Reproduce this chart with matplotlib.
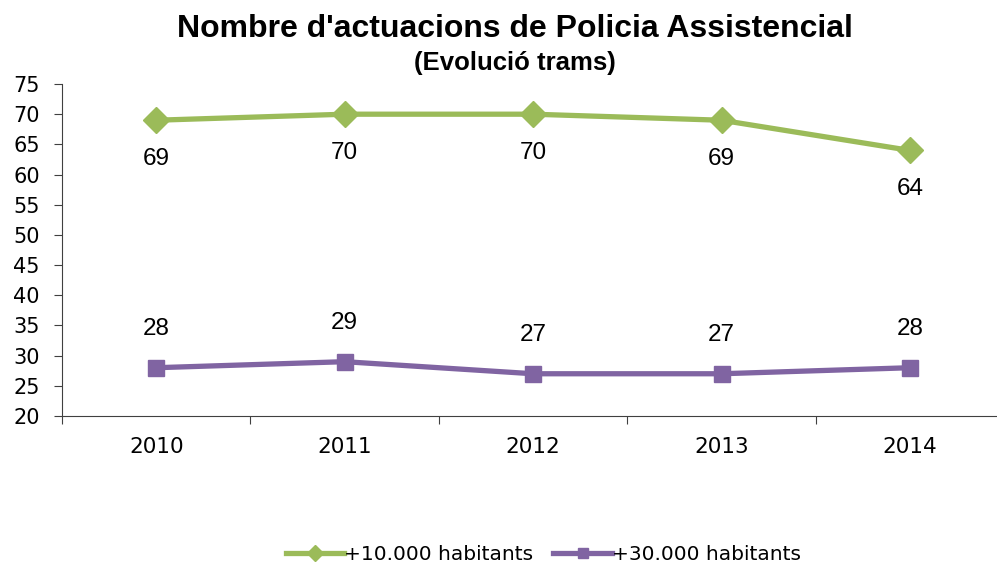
import numpy as np
import matplotlib
matplotlib.use("Agg")
import matplotlib.pyplot as plt

years = ["2010", "2011", "2012", "2013", "2014"]
pop_10k = [69, 70, 70, 69, 64]
pop_30k = [28, 29, 27, 27, 28]
labels = ["+10.000 habitants", "+30.000 habitants"]

green = "#9BBB59"
purple = "#8064A2"

fig = plt.figure(figsize=(9.97, 5.65), dpi=100)
ax = fig.add_axes([0.0622, 0.2637, 0.945, 0.5876])

x = np.arange(len(years))
ax.plot(x, pop_10k, color=green, lw=3.8, marker="D", ms=13, label=labels[0])
ax.plot(x, pop_30k, color=purple, lw=3.8, marker="s", ms=11, label=labels[1])

# etiquetes de dades: verd a sota, lila a sobre
for xi, v in zip(x, pop_10k):
    ax.annotate(str(v), (xi, v), xytext=(0, -28), textcoords="offset points",
                ha="center", va="center", fontsize=17.5, family="Liberation Sans")
for xi, v in zip(x, pop_30k):
    ax.annotate(str(v), (xi, v), xytext=(0, 28), textcoords="offset points",
                ha="center", va="center", fontsize=17.5, family="Liberation Sans")

ax.set_xlim(-0.5, len(years) - 0.5)
ax.set_ylim(20, 75)
ax.set_yticks(range(20, 80, 5))
ax.set_xticks(x)
ax.set_xticklabels(years)
ax.set_xticks(np.arange(-0.5, len(years), 1), minor=True)
ax.tick_params(axis="x", which="major", length=0, pad=15, labelsize=15.5)
ax.tick_params(axis="x", which="minor", length=6, width=0.8, color="#404040")
ax.tick_params(axis="y", length=6, width=0.8, pad=10, labelsize=15, color="#404040")
for lab in ax.get_xticklabels() + ax.get_yticklabels():
    lab.set_family("DejaVu Sans")
for s in ["top", "right"]:
    ax.spines[s].set_visible(False)
ax.spines["left"].set_color("#404040")
ax.spines["bottom"].set_color("#404040")

fig.text(0.516, 0.948, "Nombre d'actuacions de Policia Assistencial", ha="center",
         va="center", fontsize=23, fontweight="bold", family="Liberation Sans")
fig.text(0.516, 0.888, "(Evolució trams)", ha="center", va="center",
         fontsize=18.5, fontweight="bold", family="Liberation Sans")

leg = fig.legend(loc="center", bbox_to_anchor=(0.545, 0.018), ncol=2, frameon=False,
                 prop={"family": "DejaVu Sans", "size": 14.5}, handlelength=2.9,
                 columnspacing=1.0, handletextpad=0.0, markerscale=0.6)

fig.savefig("out.png", dpi=100)
